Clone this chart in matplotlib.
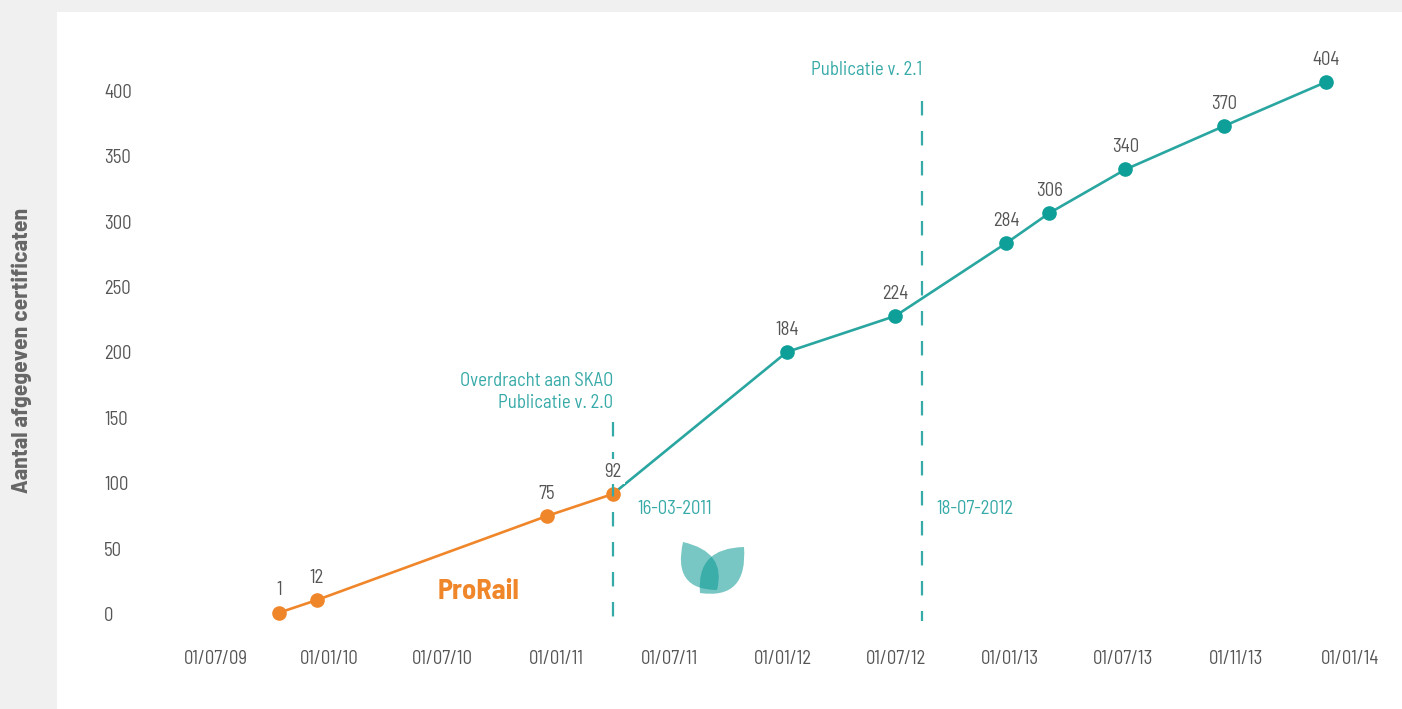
import matplotlib
matplotlib.use("Agg")
import matplotlib.pyplot as plt
from matplotlib.patches import Rectangle, PathPatch
from matplotlib.path import Path
from matplotlib.transforms import Affine2D

plt.rcParams['font.family'] = ['Barlow Semi Condensed', 'Fira Sans Condensed', 'DejaVu Sans']

# tick labels (evenly spaced on the axis)
tick_labels = ['01/07/09', '01/01/10', '01/07/10', '01/01/11', '01/07/11', '01/01/12',
               '01/07/12', '01/01/13', '01/07/13', '01/11/13', '01/01/14']
y_ticks = [0, 50, 100, 150, 200, 250, 300, 350, 400]

# ProRail period (positions on tick index scale)
prorail_x = [0.556, 0.89, 2.92, 3.50]
prorail_y = [1, 10.7, 75, 91.8]
prorail_lbl = ['1', '12', '75', '92']

# SKAO period
skao_x = [3.50, 5.035, 5.99, 6.97, 7.35, 8.02, 8.89, 9.79]
skao_y = [91.8, 200.4, 227.9, 283.7, 306.7, 340, 373.2, 406.9]
skao_lbl = ['', '184', '224', '284', '306', '340', '370', '404']

events_x = [3.50, 6.226]
events_top = [147, 392]
events_date = ['16-03-2011', '18-07-2012']
events_date_x = [3.72, 6.35]
events_text = ['Overdracht aan SKAO\nPublicatie v. 2.0', 'Publicatie v. 2.1']
events_text_y = [170, 416]

orange = '#f0862a'
teal_line = '#2aa6a1'
teal_dot = '#0e9f99'
teal_txt = '#36aaa8'
gray = '#555555'
fs = 13.5

fig = plt.figure(figsize=(14.02, 7.09), dpi=100)
fig.patch.set_facecolor('#f0f0f0')
fig.add_artist(Rectangle((57 / 1402, 0), 1, 697 / 709, transform=fig.transFigure,
                         facecolor='white', edgecolor='none', zorder=-10))

ax = fig.add_axes([170 / 1402, 69 / 709, 1210 / 1402, 600 / 709])
ax.set_facecolor('none')
ax.set_xlim(-0.4056, 10.265)
ax.set_ylim(-19.885, 439.0)
for s in ax.spines.values():
    s.set_visible(False)

ax.set_xticks(range(len(tick_labels)))
ax.set_xticklabels(tick_labels)
ax.set_yticks(y_ticks)
ax.set_yticklabels([str(v) for v in y_ticks])
ax.tick_params(axis='x', length=0, pad=7, labelsize=fs, labelcolor=gray)
ax.tick_params(axis='y', length=0, pad=47.5, labelsize=fs, labelcolor=gray)
for t in ax.get_yticklabels():
    t.set_horizontalalignment('left')

# lines and points
ax.plot(skao_x, skao_y, color=teal_line, lw=1.9, zorder=3)
ax.plot(skao_x[1:], skao_y[1:], 'o', color=teal_dot, ms=9.5, zorder=4)
ax.plot(prorail_x, prorail_y, color=orange, lw=1.9, zorder=3)
ax.plot(prorail_x, prorail_y, 'o', color=orange, ms=9.5, zorder=5)

for x, y, l in zip(prorail_x + skao_x, prorail_y + skao_y, prorail_lbl + skao_lbl):
    if not l:
        continue
    # the label that sits on an event line gets a white backing
    box = dict(boxstyle='square,pad=0.2', fc='white', ec='none') if x in events_x else None
    ax.annotate(l, (x, y), xytext=(0, 16), textcoords='offset points',
                ha='center', va='center', fontsize=fs, color=gray, zorder=7, bbox=box)

# event lines
for x, top, dx, d, txt, ty in zip(events_x, events_top, events_date_x, events_date,
                                  events_text, events_text_y):
    ax.plot([x, x], [top, -5.5], color=teal_txt, lw=1.6, ls=(0, (6.5, 7)), zorder=6)
    ax.text(dx, 80, d, ha='left', va='center', fontsize=fs, color=teal_txt)
    ax.text(x, ty, txt, ha='right', va='center', fontsize=fs, color=teal_txt,
            linespacing=1.3)

ax.text(1.958, 17, 'ProRail', ha='left', va='center', fontsize=20.5,
        fontweight='bold', color=orange)

fig.text(22 / 1402, 0.506, 'Aantal afgegeven certificaten', rotation=90,
         ha='center', va='center', fontsize=17, fontweight='bold', color='#666666')

# SKAO leaf logo (pixel coordinates, y down)
pix = Affine2D().scale(1, -1).translate(0, 709)
def leaf(p1, c1, p2, c2):
    verts = [p1, c1, p2, c2, p1, p1]
    codes = [Path.MOVETO, Path.CURVE3, Path.CURVE3, Path.CURVE3, Path.CURVE3, Path.CLOSEPOLY]
    return PathPatch(Path(verts, codes), facecolor='#0a9a94', edgecolor='none',
                     alpha=0.55, transform=pix)
fig.add_artist(leaf((683, 542), (672, 590), (717, 590), (727, 552)))
fig.add_artist(leaf((744, 547), (696, 548), (700, 593), (748, 600)))

fig.savefig('out.png', dpi=100)
